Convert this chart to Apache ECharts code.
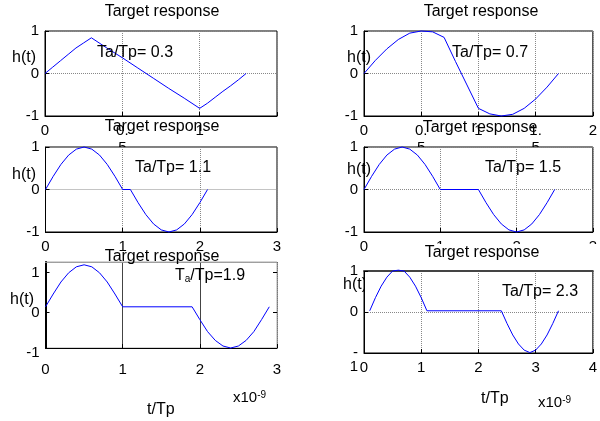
<!DOCTYPE html>
<html><head><meta charset="utf-8">
<script src="https://cdn.jsdelivr.net/npm/echarts@6/dist/echarts.min.js"></script>
<style>html,body{margin:0;padding:0;background:#fff}#c{width:600px;height:421px}</style>
</head><body><div id="c"></div>
<script>
const FONT = '"Liberation Sans", Arial, Helvetica, sans-serif';

// ---- data (t/Tp, h(t)) ----
const t1 = [0,0.05,0.1,0.15,0.2,0.25,0.3,0.4,0.5,0.6,0.7,0.8,0.9,1.0,1.05,1.1,1.15,1.2,1.25,1.3];
const h1 = [0,0.15,0.3,0.45,0.6,0.72,0.84,0.6,0.37,0.13,-0.11,-0.35,-0.58,-0.82,-0.7,-0.56,-0.42,-0.29,-0.15,0];

const t2 = [0,0.1,0.2,0.3,0.4,0.5,0.6,0.7,0.8,0.9,1.0,1.1,1.2,1.3,1.4,1.5,1.6,1.7];
const h2 = [0,0.31,0.58,0.8,0.95,1.0,0.98,0.85,0.28,-0.27,-0.82,-0.95,-1.0,-0.96,-0.82,-0.6,-0.32,0];

const t3 = [0,0.1,0.2,0.3,0.4,0.5,0.6,0.7,0.8,0.9,1.0,1.1,1.2,1.3,1.4,1.5,1.6,1.7,1.8,1.9,2.0,2.1];
const h3 = [0,0.31,0.59,0.81,0.95,1.0,0.95,0.81,0.59,0.31,0,0,-0.31,-0.59,-0.81,-0.95,-1.0,-0.95,-0.81,-0.59,-0.31,0];

const t4 = [0,0.1,0.2,0.3,0.4,0.5,0.6,0.7,0.8,0.9,1.0,1.5,1.6,1.7,1.8,1.9,2.0,2.1,2.2,2.3,2.4,2.5];
const h4 = [0,0.31,0.59,0.81,0.95,1.0,0.95,0.81,0.59,0.31,0,0,-0.31,-0.59,-0.81,-0.95,-1.0,-0.95,-0.81,-0.59,-0.31,0];

const t5 = [0,0.1,0.2,0.3,0.4,0.5,0.6,0.7,0.8,0.9,1.0,1.9,2.0,2.1,2.2,2.3,2.4,2.5,2.6,2.7,2.8,2.9];
const h5 = [0.14,0.46,0.76,0.99,1.14,1.19,1.14,0.99,0.76,0.46,0.14,0.14,-0.18,-0.48,-0.7,-0.84,-0.89,-0.84,-0.7,-0.48,-0.18,0.14];

const t6 = [0.1,0.2,0.3,0.4,0.5,0.6,0.7,0.8,0.9,1.0,1.1,2.4,2.5,2.6,2.7,2.8,2.9,3.0,3.1,3.2,3.3,3.4];
const h6 = [0.03,0.35,0.63,0.85,1.0,1.02,1.0,0.85,0.63,0.35,0.03,0.03,-0.28,-0.56,-0.78,-0.93,-0.99,-0.93,-0.78,-0.56,-0.28,0.03];

// ---- tick labels ----
const xTick1 = [0,0.5,1,1.5], xLab1 = ['0','0.\n5','1',''];
const xTick2 = [0,0.5,1,1.5,2], xLab2 = ['0','0.\n5','1','1.\n5','2'];
const xTick3 = [0,1,2,3], xLab3 = ['0','1','2','3'];
const xTick6 = [0,1,2,3,4], xLab6 = ['0','1','2','3','4'];
const yTick = [-1,0,1], yLab = ['-1','0','1'];
const yLab6 = ['\n-\n1','0','1'];

const titleText = 'Target response';
const ratioText = ['Ta/Tp= 0.3','Ta/Tp= 0.7','Ta/Tp= 1.1','Ta/Tp= 1.5','{n|T}{s|a}{n|/Tp=1.9}','Ta/Tp= 2.3'];
const yName = 'h(t)', xName = 't/Tp', scaleText = '{n|x10}{p|-9}';

function fmt(ticks, labels) {
  return v => { const i = ticks.findIndex(a => Math.abs(a - v) < 1e-6); return i < 0 ? '' : labels[i]; };
}
const tickFont = {fontFamily: FONT, fontSize: 15, color: '#000'};
const dotted = {color: '#888', type: [1, 1], width: 1};

const panels = [
  {g:{left:45, top:31, width:232, height:85}, x:[0,1.5,0.5], y:[-1,1], t:t1, h:h1, xt:xTick1, xl:xLab1},
  {g:{left:364, top:31, width:232, height:85}, x:[0,2,0.5], y:[-1,1], t:t2, h:h2, xt:xTick2, xl:xLab2},
  {g:{left:45.5, top:147, width:231.5, height:85}, x:[0,3,1], y:[-1,1], t:t3, h:h3, xt:xTick3, xl:xLab3},
  {g:{left:364, top:147, width:232, height:85}, x:[0,3,1], y:[-1,1], t:t4, h:h4, xt:xTick3, xl:xLab3},
  {g:{left:45.5, top:262, width:231.5, height:86}, x:[0,3,1], y:[-0.89,1.26], t:t5, h:h5, xt:xTick3, xl:xLab3},
  {g:{left:364, top:271, width:232, height:82}, x:[0,4,1], y:[-1,1], t:t6, h:h6, xt:xTick6, xl:xLab6}
];

const grid = [], xAxis = [], yAxis = [], series = [];
panels.forEach((p, i) => {
  const special = i === 4;
  grid.push(Object.assign({show: true, backgroundColor: '#fff', borderColor: special ? '#aaa' : '#000',
    borderWidth: 1, z: 2 * i}, p.g));
  xAxis.push({
    type: 'value', gridIndex: i, min: p.x[0], max: p.x[1], interval: p.x[2], z: 2 * i + 1,
    axisLine: {show: true, onZero: false, lineStyle: {color: '#000', width: 1}},
    axisTick: {show: true, inside: true, length: 4, lineStyle: {color: '#000'}},
    axisLabel: Object.assign({}, tickFont, {margin: special ? 13 : 6, lineHeight: 17, formatter: fmt(p.xt, p.xl)}),
    splitLine: {show: true, lineStyle: special ? {color: '#444', width: 1} : dotted}
  });
  const ya = {
    type: 'value', gridIndex: i, min: p.y[0], max: p.y[1], z: 2 * i + 1,
    axisLine: {show: true, onZero: false, lineStyle: {color: '#000', width: special ? 2 : 1}},
    axisTick: {show: true, inside: true, length: 4, lineStyle: {color: '#000'}},
    axisLabel: Object.assign({}, tickFont, {margin: 6, lineHeight: 14, formatter: fmt(yTick, i === 5 ? yLab6 : yLab)}),
    splitLine: {show: !special, lineStyle: dotted}
  };
  if (special) {
    ya.axisLabel.customValues = [0, 1];
    ya.axisTick.customValues = [0, 1];
  } else {
    ya.interval = 1;
  }
  yAxis.push(ya);
  series.push({
    type: 'line', xAxisIndex: i, yAxisIndex: i, z: 2 * i + 1, showSymbol: false, symbol: 'none',
    clip: false, lineStyle: {color: '#0000ff', width: 1}, itemStyle: {color: '#0000ff'},
    data: p.t.map((v, k) => [v, p.h[k]])
  });
});
// extra border axes
xAxis.push({type: 'value', gridIndex: 4, position: 'top', min: 0, max: 3, z: 9,
  axisLine: {show: true, onZero: false, lineStyle: {color: '#999', type: [1, 1]}},
  axisTick: {show: false}, axisLabel: {show: false}, splitLine: {show: false}});
yAxis.push({type: 'value', gridIndex: 4, position: 'right', min: -0.89, max: 1.26, z: 9,
  axisLine: {show: true, onZero: false, lineStyle: {color: '#999', type: [1, 1]}},
  axisTick: {show: true, inside: true, length: 4, customValues: [0, 1], lineStyle: {color: '#000'}},
  axisLabel: {show: false, customValues: [0, 1]}, splitLine: {show: false}});
xAxis.push({type: 'value', gridIndex: 5, position: 'top', min: 0, max: 4, z: 11,
  axisLine: {show: true, onZero: false, lineStyle: {color: '#444', width: 2}},
  axisTick: {show: false}, axisLabel: {show: false}, splitLine: {show: false}});

const txt = (text, x, y, align, size, z, rich) => ({
  text, left: x, top: y, textAlign: align, textVerticalAlign: 'middle', padding: 0, z: z || 20,
  textStyle: {fontFamily: FONT, fontSize: size || 16, fontWeight: 'normal', color: '#000', rich: rich}
});
const subRich = {n: {fontFamily: FONT, fontSize: 16, lineHeight: 16, color: '#000'},
                 s: {fontFamily: FONT, fontSize: 10, lineHeight: 6, verticalAlign: 'bottom', color: '#000'}};
const supRich = {n: {fontFamily: FONT, fontSize: 15, lineHeight: 16, color: '#000'},
                 p: {fontFamily: FONT, fontSize: 10, lineHeight: 6, verticalAlign: 'top', color: '#000'}};

const title = [
  txt(titleText, 162, 12, 'center'), txt(titleText, 481, 12, 'center'),
  txt(titleText, 162, 127, 'center'), txt(titleText, 480, 128, 'center'),
  txt(titleText, 162, 257, 'center'), txt(titleText, 482, 253, 'center'),
  txt(ratioText[0], 97, 53, 'left'), txt(ratioText[1], 452, 53, 'left'),
  txt(ratioText[2], 135, 168, 'left'), txt(ratioText[3], 485, 168, 'left'),
  txt(ratioText[4], 175, 276, 'left', 16, 20, subRich), txt(ratioText[5], 502, 292, 'left'),
  txt(yName, 12, 58, 'left'), txt(yName, 347, 58, 'left'),
  txt(yName, 12, 175, 'left'), txt(yName, 347, 170, 'left'),
  txt(yName, 10, 300, 'left'), txt(yName, 343, 285, 'left', 16, 9),
  txt(xName, 147, 410, 'left'), txt(xName, 481, 399, 'left'),
  txt(scaleText, 233, 398, 'left', 15, 20, supRich), txt(scaleText, 538, 403, 'left', 15, 20, supRich)
];

const chart = echarts.init(document.getElementById('c'), null, {renderer: 'canvas'});
chart.setOption({
  animation: false, backgroundColor: '#fff',
  grid, xAxis, yAxis, series, title,
  graphic: [{type: 'rect', shape: {x: 380, y: 244, width: 220, height: 20}, style: {fill: '#fff'}, z: 8, silent: true}]
});
// "-1" label of the bottom-left panel lies just below its plot box
const pm = chart.convertToPixel({gridIndex: 4}, [0, -1]);
chart.setOption({
  graphic: [{type: 'rect', shape: {x: 380, y: 244, width: 220, height: 20}, style: {fill: '#fff'}, z: 8, silent: true},
    {type: 'text', x: pm[0] - 6, y: pm[1], z: 20, silent: true,
     style: {text: yLab[0], fontFamily: FONT, fontSize: 15, fill: '#000', align: 'right', verticalAlign: 'middle'}}]
});
</script></body></html>
